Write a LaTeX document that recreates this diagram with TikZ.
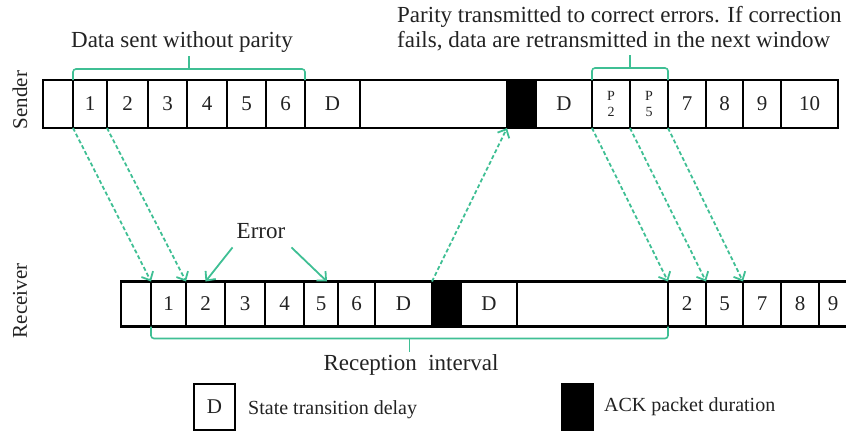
\documentclass[tikz,border=0pt]{standalone}
\usepackage{fontspec}
\setmainfont{Liberation Serif}
\usepackage{xcolor}
\definecolor{mygreen}{HTML}{3FBF94}
\definecolor{mytext}{HTML}{222222}
\usetikzlibrary{arrows.meta,calc,positioning}

\begin{document}
\begin{tikzpicture}[x=1pt,y=-1pt,
    cell/.style={draw,rectangle,line width=2.8pt,inner sep=0pt,outer sep=0pt,anchor=west,
        minimum height=48pt,text=mytext,font=\fontsize{21}{25}\selectfont},
    ack/.style={cell,fill=black},
    parbox/.style={cell,align=center,font=\fontsize{14}{16}\selectfont},
    tx/.style={-{Straight Barb[length=7pt,width=13pt]},mygreen,line width=1.8pt,dash pattern=on 4pt off 2.5pt},
    errarr/.style={-{Straight Barb[length=7pt,width=13pt]},mygreen,line width=1.8pt},
    bracket/.style={mygreen,line width=1.6pt,rounded corners=3pt},
    lbl/.style={text=mytext,inner sep=2pt,font=\fontsize{23}{26}\selectfont},
    legtxt/.style={text=mytext,inner sep=0pt,font=\fontsize{20}{24}\selectfont}]
    \useasboundingbox (0,0) rectangle (846,431);

    % sender time line
    \foreach \n/\x/\w/\t in {0/43/30/{},1/73/34/1,2/107/41/2,3/148/39/3,4/187/40/4,5/227/39/5,
                             6/266/39/6,D/305/55/D,E/360/147/{},D2/536/56/D,
                             7/668/38/7,8/706/37/8,9/743/38/9,10/781/57/10}
        \node[cell,minimum width=\w] (s\n) at (\x,104) {\t};
    \node[ack,minimum width=29] (sA) at (507,104) {};
    \node[parbox,minimum width=38] (sP2) at (592,104) {P\\2};
    \node[parbox,minimum width=38] (sP5) at (630,104) {P\\5};

    % receiver time line
    \foreach \n/\x/\w/\t in {0/121/30/{},1/151/35/1,2/186/39/2,3/225/40/3,4/265/39/4,5/304/34/5,
                             6/338/37/6,D/375/57/D,D2/461/56/D,E/517/151/{},
                             R2/668/38/2,R5/706/37/5,7/743/38/7,8/781/38/8,9/819/28/9}
        \node[cell,minimum width=\w,minimum height=45] (r\n) at (\x,304) {\t};
    \node[ack,minimum width=29,minimum height=45] (rA) at (432,304) {};

    \node[lbl,rotate=90,font=\fontsize{21}{25}\selectfont] (sndtext) at (20,100) {Sender};
    \node[lbl,rotate=90,font=\fontsize{21}{25}\selectfont] (rcvtext) at (20,301) {Receiver};

    % brackets
    \draw[bracket] (s1.north west) -- ++(0,-11) coordinate (b1) -- (b1 -| s6.north east) -- (s6.north east);
    \draw[bracket] ($(b1)!.5!(b1 -| s6.north east)$) -- ++(0,-13);
    \node[lbl,anchor=base] (nopartext) at (182,47) {Data sent without parity};

    \draw[bracket] (sP2.north west) -- ++(0,-12) coordinate (b2) -- (b2 -| sP5.north east) -- (sP5.north east);
    \draw[bracket] ($(b2)!.5!(b2 -| sP5.north east)$) -- ++(0,-13);
    \node[lbl,anchor=base west] (partext) at (395,22) {Parity transmitted to correct errors. If correction};
    \node[lbl,anchor=base west] (partext2) at (395,47) {fails, data are retransmitted in the next window};

    \draw[bracket] (r1.south west) -- ++(0,12) coordinate (b3) -- (b3 -| rE.south east) -- (rE.south east);
    \draw[bracket] ($(b3)!.5!(b3 -| rE.south east)$) -- ++(0,13);
    \node[lbl,anchor=base] (rxtext) at (411,370) {Reception\ \ interval};

    % transmissions
    \draw[tx] (s1.south west) -- (r1.north west);
    \draw[tx] (s2.south west) -- (r2.north west);
    \draw[tx] (rA.north west) -- (sA.south west);
    \draw[tx] (sP2.south west) -- (rE.north east);
    \draw[tx] (sP5.south west) -- (rR5.north west);
    \draw[tx] (s7.south west) -- (r7.north west);

    % errors
    \node[lbl,anchor=base] (err) at (261,238) {Error};
    \draw[errarr] ([shift={(-2,7)}]err.south west) -- (r2.north);
    \draw[errarr] ([shift={(4,7)}]err.south east) -- ([xshift=6pt]r5.north);

    % legend
    \node[cell,line width=2pt,minimum width=41,minimum height=46] (legD) at (194,407) {D};
    \node[legtxt,right=13pt of legD,yshift=-3pt] (legDtext) {State transition delay};
    \node[ack,line width=2pt,minimum width=31,minimum height=46] (legA) at (562,407) {};
    \node[legtxt,right=11pt of legA] (legAtext) {ACK packet duration};
\end{tikzpicture}
\end{document}
